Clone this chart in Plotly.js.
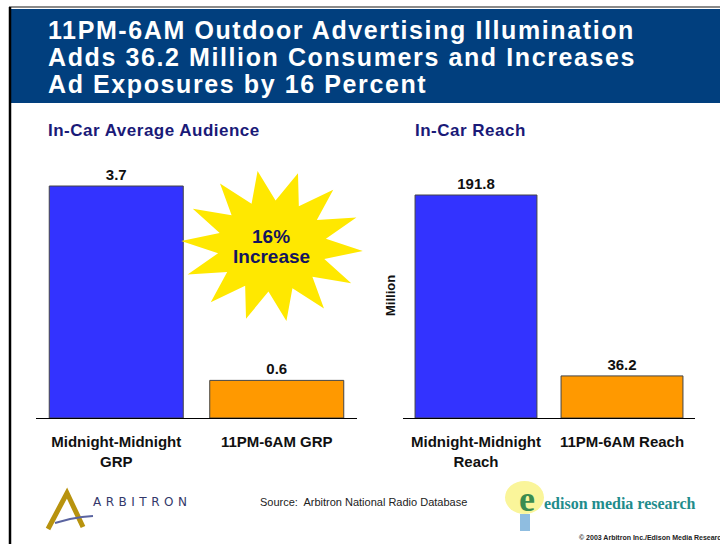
<!DOCTYPE html>
<html>
<head>
<meta charset="utf-8">
<script src="https://cdn.plot.ly/plotly-3.0.1.min.js"></script>
<style>html,body{margin:0;padding:0;background:#fff;}#chart{width:720px;height:544px;}</style>
</head>
<body>
<div id="chart"></div>
<script>
// ---- data ----
const titleLines = ['11PM-6AM Outdoor Advertising Illumination', 'Adds 36.2 Million Consumers and Increases', 'Ad Exposures by 16 Percent'];
const leftTitle = 'In-Car Average Audience';
const rightTitle = 'In-Car Reach';
const grpCats = ['Midnight-Midnight<br>GRP', '11PM-6AM GRP'];
const grpVals = [3.7, 0.6];
const reachCats = ['Midnight-Midnight<br>Reach', '11PM-6AM Reach'];
const reachVals = [191.8, 36.2];
const barColors = ['#3333ff', '#ff9900'];
const starText = ['16%', 'Increase'];
const reachUnit = 'Million';
const sourceText = 'Source:  Arbitron National Radio Database';
const copyrightText = '\u00a9 2003 Arbitron Inc./Edison Media Research';

// ---- helpers ----
const W = 720, H = 544;
const fx = x => x / W, fy = y => 1 - y / H;
const SANS = 'Liberation Sans, Arial, sans-serif';
const spaced = (t, px) => '<span style="letter-spacing:' + px + 'px">' + t + '</span>';

function pathFromPx(pts, close) {
  return pts.map((p, i) => (i ? 'L' : 'M') + fx(p[0]).toFixed(5) + ',' + fy(p[1]).toFixed(5)).join(' ') + (close ? ' Z' : '');
}
function starPx(cx, cy, rx, ry, n, inner, rot) {
  const pts = [];
  for (let i = 0; i < 2 * n; i++) {
    const a = rot + i * Math.PI / n;
    const r = i % 2 === 0 ? 1 : inner;
    pts.push([cx + rx * r * Math.cos(a), cy + ry * r * Math.sin(a)]);
  }
  return pts;
}

const traces = [
  {type: 'bar', x: grpCats, y: grpVals, xaxis: 'x', yaxis: 'y',
   marker: {color: barColors, line: {color: '#444', width: 1}},
   text: grpVals.map(v => v.toFixed(1)), textposition: 'outside', constraintext: 'none',
   textfont: {family: SANS, size: 15, color: '#111', weight: 'bold'},
   cliponaxis: false, hoverinfo: 'none'},
  {type: 'bar', x: reachCats, y: reachVals, xaxis: 'x2', yaxis: 'y2',
   marker: {color: barColors, line: {color: '#444', width: 1}},
   text: reachVals.map(v => v.toFixed(1)), textposition: 'outside', constraintext: 'none',
   textfont: {family: SANS, size: 15, color: '#111', weight: 'bold'},
   cliponaxis: false, hoverinfo: 'none'}
];

const xCommon = {showline: true, linecolor: '#000', linewidth: 1, ticks: '', showgrid: false, zeroline: false,
  tickfont: {family: SANS, size: 15, color: '#111', weight: 'bold'}, ticklabelstandoff: 10, fixedrange: true, type: 'category'};
const yCommon = {showgrid: false, zeroline: false, showticklabels: false, showline: false, ticks: '', fixedrange: true};

const shapes = [
  // header band
  {type: 'rect', xref: 'paper', yref: 'paper', x0: fx(10), x1: fx(720), y0: fy(103), y1: fy(9), fillcolor: '#013f7e', line: {width: 0}, layer: 'below'},
  // top grey rule and left black border
  {type: 'line', xref: 'paper', yref: 'paper', x0: fx(9), x1: fx(720), y0: fy(7), y1: fy(7), line: {color: '#8a8a8a', width: 2}},
  {type: 'line', xref: 'paper', yref: 'paper', x0: fx(10), x1: fx(10), y0: fy(7), y1: fy(544), line: {color: '#000', width: 2.5}},
  // starburst
  {type: 'path', xref: 'paper', yref: 'paper', path: pathFromPx(starPx(272, 246, 91, 76, 14, 0.6, -1.73), true),
   fillcolor: '#ffe800', line: {width: 0}, layer: 'above'},
  // Arbitron "A" mark
  {type: 'path', xref: 'paper', yref: 'paper', path: pathFromPx([[48, 529], [67, 493], [83, 527]], false),
   line: {color: '#b8930e', width: 5}},
  {type: 'path', xref: 'paper', yref: 'paper', path: pathFromPx([[55, 523], [70, 519], [82, 517], [93, 516]], false),
   line: {color: '#5a64a0', width: 2}},
  // Edison bulb
  {type: 'circle', xref: 'paper', yref: 'paper', x0: fx(505), x1: fx(544), y0: fy(514), y1: fy(481), fillcolor: '#faf59a', line: {width: 0}},
  {type: 'rect', xref: 'paper', yref: 'paper', x0: fx(520), x1: fx(530), y0: fy(531), y1: fy(514), fillcolor: '#8fbde0', line: {width: 0}}
];

const ann = [];
titleLines.forEach((t, i) => ann.push({xref: 'paper', yref: 'paper', x: fx(46), y: fy(30.5 + i * 26.7), xanchor: 'left', yanchor: 'middle',
  text: spaced(t, 1.6), showarrow: false, font: {family: SANS, size: 25, color: '#ffffff', weight: 'bold'}}));
ann.push({xref: 'paper', yref: 'paper', x: fx(46), y: fy(130), xanchor: 'left', yanchor: 'middle', text: spaced(leftTitle, 0.5), showarrow: false,
  font: {family: SANS, size: 17, color: '#1a1a78', weight: 'bold'}});
ann.push({xref: 'paper', yref: 'paper', x: fx(413), y: fy(130), xanchor: 'left', yanchor: 'middle', text: spaced(rightTitle, 0.5), showarrow: false,
  font: {family: SANS, size: 17, color: '#1a1a78', weight: 'bold'}});
starText.forEach((t, i) => ann.push({xref: 'paper', yref: 'paper', x: fx(271), y: fy(236 + i * 20), xanchor: 'center', yanchor: 'middle',
  text: t, showarrow: false, font: {family: SANS, size: 19, color: '#14145e', weight: 'bold'}}));
ann.push({xref: 'paper', yref: 'paper', x: fx(390), y: fy(296), xanchor: 'center', yanchor: 'middle', text: reachUnit, textangle: -90,
  showarrow: false, font: {family: SANS, size: 13, color: '#111', weight: 'bold'}});
ann.push({xref: 'paper', yref: 'paper', x: fx(258), y: fy(502), xanchor: 'left', yanchor: 'middle', text: sourceText, showarrow: false,
  font: {family: SANS, size: 11, color: '#222'}});
ann.push({xref: 'paper', yref: 'paper', x: fx(91), y: fy(502), xanchor: 'left', yanchor: 'middle',
  text: spaced('ARBITRON', 4.5), showarrow: false, font: {family: 'DejaVu Sans, sans-serif', size: 12, color: '#33386a'}});
ann.push({xref: 'paper', yref: 'paper', x: fx(527), y: fy(499), xanchor: 'center', yanchor: 'middle', text: 'e', showarrow: false,
  font: {family: 'Liberation Serif, serif', size: 36, color: '#3b8c50', weight: 'bold'}});
ann.push({xref: 'paper', yref: 'paper', x: fx(542), y: fy(503), xanchor: 'left', yanchor: 'middle', text: 'edison media research', showarrow: false,
  font: {family: 'Liberation Serif, serif', size: 16, color: '#1f8c8c', weight: 'bold'}});
ann.push({xref: 'paper', yref: 'paper', x: fx(577), y: fy(537), xanchor: 'left', yanchor: 'middle', text: copyrightText, showarrow: false,
  font: {family: SANS, size: 7, color: '#222', weight: 'bold'}});

const layout = {
  width: W, height: H, margin: {l: 0, r: 0, t: 0, b: 0},
  paper_bgcolor: '#ffffff', plot_bgcolor: 'rgba(0,0,0,0)', showlegend: false, bargap: 0.165,
  xaxis: Object.assign({}, xCommon, {domain: [fx(36), fx(357)], anchor: 'y'}),
  yaxis: Object.assign({}, yCommon, {domain: [fy(418), fy(160)], range: [0, 4.115], anchor: 'x'}),
  xaxis2: Object.assign({}, xCommon, {domain: [fx(403), fx(695)], anchor: 'y2'}),
  yaxis2: Object.assign({}, yCommon, {domain: [fy(418), fy(160)], range: [0, 221.9], anchor: 'x2'}),
  shapes: shapes, annotations: ann
};

Plotly.newPlot('chart', traces, layout, {staticPlot: true, displayModeBar: false});
</script>
</body>
</html>
